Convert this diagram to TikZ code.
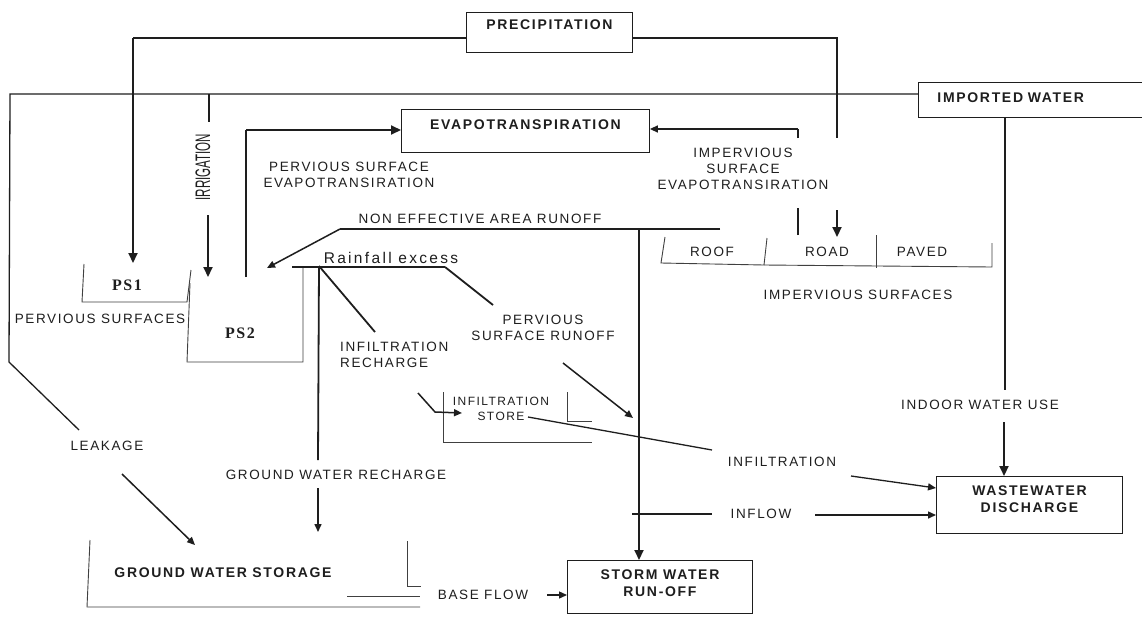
\documentclass[tikz,border=0pt]{standalone}
\usepackage{fontspec}
\setmainfont{Liberation Sans}[LetterSpace=12]
\newfontfamily\psfont{Liberation Serif}[LetterSpace=10]
\newfontfamily\plainsans{Liberation Sans}
\usetikzlibrary{arrows.meta}
\definecolor{ink}{HTML}{1E1E1E}
\begin{document}
\begin{tikzpicture}[x=1pt,y=-1pt,
  every node/.style={inner sep=0pt, text=ink},
  lbl/.style={font=\fontsize{13.5}{16}\selectfont, align=center},
  lbll/.style={font=\fontsize{13.5}{16}\selectfont, align=left},
  boxtxt/.style={font=\bfseries\fontsize{14}{17}\selectfont},
  box/.style={draw=ink, line width=0.9pt, boxtxt, anchor=north west},
  flow/.style={draw=ink, line width=1.3pt},
  thinl/.style={draw=ink!85, line width=0.9pt},
  arr/.style={draw=ink, line width=2pt, -{Triangle[length=10pt,width=9pt]}},
  arrs/.style={draw=ink, line width=1.5pt, -{Triangle[length=8pt,width=7pt]}},
]
\useasboundingbox (0,0) rectangle (1142,616);
\fill[white] (0,0) rectangle (1142,616);

% ---------- boxes ----------
\node[box, minimum width=166pt, minimum height=40pt, text height=17pt, text depth=23pt]
  (precip) at (466,12) {PRECIPITATION};
\node[box, minimum width=248pt, minimum height=43pt, text height=20pt, text depth=23pt]
  (evap) at (401,109) {EVAPOTRANSPIRATION};
\node[box, text width=203pt, inner xsep=19pt, align=left, text height=20pt, text depth=15pt]
  (imp) at (918,82) {IMPORTED WATER};
\node[box, minimum width=186pt, minimum height=57pt, text height=19pt, text depth=38pt]
  (waste) at (936,476) {\begin{tabular}[t]{@{}c@{}}WASTEWATER\\DISCHARGE\end{tabular}};
\node[box, minimum width=185pt, minimum height=53pt, text height=19pt, text depth=34pt]
  (storm) at (567,560) {\begin{tabular}[t]{@{}c@{}}STORM WATER\\RUN-OFF\end{tabular}};

% ---------- labels ----------
\node[lbl] (lpse) at (349,175) {PERVIOUS SURFACE\\EVAPOTRANSIRATION};
\node[lbl] (lise) at (743,169) {IMPERVIOUS\\SURFACE\\EVAPOTRANSIRATION};
\node[lbl] (lnon) at (480,219) {NON EFFECTIVE AREA RUNOFF};
\node[rotate=90, font=\plainsans\fontsize{21}{21}\selectfont] (lirr) at (203,167)
  {\scalebox{0.55}[1]{IRRIGATION}};
\node[font=\psfont\bfseries\fontsize{16}{16}\selectfont] (ps1) at (127,285) {PS1};
\node[font=\psfont\bfseries\fontsize{16}{16}\selectfont] (ps2) at (240,333) {PS2};
\node[lbl] (lps) at (100,319) {PERVIOUS SURFACES};
\node[font=\fontsize{15.5}{16}\selectfont\addfontfeature{LetterSpace=15}] (lrain) at (391,258) {Rainfall excess};
\node[lbll, anchor=west] (linr) at (340,355) {INFILTRATION\\RECHARGE};
\node[lbl] (lpsr) at (543,328) {PERVIOUS\\SURFACE RUNOFF};
\node[font=\fontsize{12}{15}\selectfont, align=center] (lstore) at (501,409) {INFILTRATION\\STORE};
\node[lbl] (lgwr) at (336,475) {GROUND WATER RECHARGE};
\node[lbl] (lleak) at (107,446) {LEAKAGE};
\node[boxtxt] (lgws) at (223,573) {GROUND WATER STORAGE};
\node[lbl] (lbase) at (483,595) {BASE FLOW};
\node[lbl] (linf) at (782,462) {INFILTRATION};
\node[lbl] (linflow) at (761,514) {INFLOW};
\node[lbl] (lindoor) at (980,405) {INDOOR WATER USE};
\node[lbl] (lroof) at (712,252) {ROOF};
\node[lbl] (lroad) at (827,252) {ROAD};
\node[lbl] (lpaved) at (922,252) {PAVED};
\node[lbl] (limps) at (858,295) {IMPERVIOUS SURFACES};

% ---------- named points ----------
\coordinate (pL) at (133,38);
\coordinate (pR) at (837,38);
\coordinate (pRd) at (837,138);
\coordinate (roadA) at (837,210);
\coordinate (roadB) at (837,237);
\coordinate (ps1in) at (133,263);
\coordinate (impL) at (10,94);
\coordinate (leakA) at (9,362);
\coordinate (leakB) at (79,430);
\coordinate (leakC) at (122,474);
\coordinate (leakD) at (195,545);
\coordinate (irrA) at (209,94);
\coordinate (irrB) at (209,122);
\coordinate (irrC) at (208,215);
\coordinate (irrD) at (208,277);
\coordinate (pseA) at (246,277);
\coordinate (pseB) at (246,130);
\coordinate (iseA) at (798,235);
\coordinate (iseB) at (798,208);
\coordinate (iseC) at (798,138);
\coordinate (iseD) at (798,129);
\coordinate (indA) at (1005,117);
\coordinate (indB) at (1005,390);
\coordinate (indC) at (1004,422);
\coordinate (nonA) at (720,229);
\coordinate (nonB) at (340,229);
\coordinate (nonC) at (267,268);
\coordinate (swA) at (639,229);
\coordinate (rainA) at (292,267);
\coordinate (rainB) at (445,267);
\coordinate (rainC) at (493,305);
\coordinate (rainJ) at (319,266);
\coordinate (psrA) at (563,363);
\coordinate (psrB) at (633,418);
\coordinate (irA) at (375,332);
\coordinate (irB) at (418,393);
\coordinate (irC) at (435,412);
\coordinate (irD) at (462,413);
\coordinate (gwrA) at (318,460);
\coordinate (gwrB) at (318,488);
\coordinate (gwrC) at (318,532);
\coordinate (stA) at (528,417);
\coordinate (stB) at (712,450);
\coordinate (infA) at (851,476);
\coordinate (flA) at (632,514);
\coordinate (flB) at (712,514);
\coordinate (flC) at (815,515);
\coordinate (bfA) at (547,595);

% ---------- surfaces ----------
\draw[thinl] (84,264) -- (82,302) -- (187,302) -- (191,270);            % PS1
\draw[thinl] (190,283) -- (187,362) -- (303,362) -- (303,267);           % PS2
\draw[thinl] (665,237) -- (661,263) -- (764,265) -- (767,238);           % roof
\draw[thinl] (764,265) -- (992,267) -- (992,243);                        % road / paved
\draw[thinl] (876,235) -- (876,268);
\draw[thinl] (443,392) -- (443,442) -- (592,442);                        % infiltration store
\draw[thinl] (567,392) -- (567,421) -- (592,421);
\draw[thinl] (90,540) -- (87,607) -- (420,607);                          % ground water storage
\draw[thinl] (407,541) -- (407,586) -- (421,586);
\draw[thinl] (347,596) -- (420,596);

% ---------- precipitation ----------
\draw[flow] (precip.west |- pL) -- (pL);
\draw[arr] (pL) -- (ps1in);
\draw[flow] (precip.east |- pR) -- (pR) -- (pRd);
\draw[arr] (roadA) -- (roadB);

% ---------- imported water ----------
\draw[flow] (imp.west |- impL) -- (impL) -- (leakA) -- (leakB);
\draw[arrs] (leakC) -- (leakD);
\draw[flow] (irrA) -- (irrB);
\draw[arr] (irrC) -- (irrD);
\draw[flow] (imp.south -| indA) -- (indB);
\draw[arr] (indC) -- (waste.north -| indC);

% ---------- evapotranspiration ----------
\draw[flow] (pseA) -- (pseB);
\draw[arr] (pseB) -- (evap.west |- pseB);
\draw[flow] (iseA) -- (iseB);
\draw[flow] (iseC) -- (iseD);
\draw[arrs] (iseD) -- (evap.east |- iseD);

% ---------- runoff ----------
\draw[flow] (nonA) -- (nonB);
\draw[arrs] (nonB) -- (nonC);
\draw[arr] (swA) -- (storm.north -| swA);
\draw[line width=2pt, draw=ink] (rainA) -- (rainB);
\draw[flow, line width=1.8pt] (rainB) -- (rainC);
\draw[arrs] (psrA) -- (psrB);
\draw[flow, line width=1.8pt] (rainJ) -- (irA);
\draw[arrs] (irB) -- (irC) -- (irD);
\draw[flow, line width=1.8pt] (rainJ) -- (gwrA);
\draw[arrs] (gwrB) -- (gwrC);
\draw[flow] (stA) -- (stB);
\draw[arrs, line width=1.3pt] (infA) -- (waste.west |- 0,488);
\draw[line width=2.4pt, draw=ink] (flA) -- (flB);
\draw[arrs] (flC) -- (waste.west |- flC);
\draw[arrs, line width=1.3pt] (bfA) -- (storm.west |- bfA);
\end{tikzpicture}
\end{document}
